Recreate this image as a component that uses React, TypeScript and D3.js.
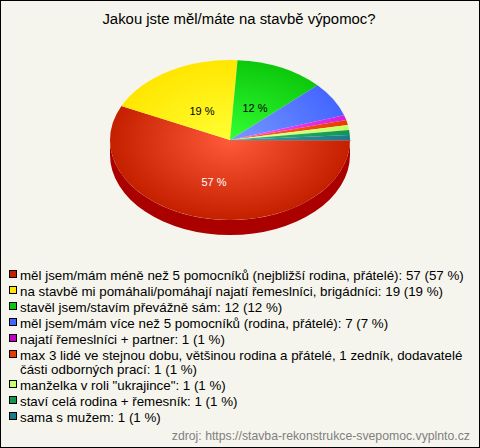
import React from "react";
import * as d3 from "d3";

const title = "Jakou jste měl/máte na stavbě výpomoc?";
const source = "zdroj: https://stavba-rekonstrukce-svepomoc.vyplnto.cz";
const values = [57, 19, 12, 7, 1, 1, 1, 1, 1];
const edgeColors = ["#c42000", "#ffe600", "#0cc80c", "#4466ff", "#d61edc", "#e63c00", "#c4ff66", "#0f9650", "#1a7a8a"];
const centerColors = ["#ff5a3a", "#ffff33", "#33ff33", "#7799ff", "#ff55ff", "#ff6a33", "#eeff99", "#33bb77", "#449aaa"];
const markerColors = ["#c42000", "#ffe600", "#0cc80c", "#4466ff", "#c000c8", "#e63c00", "#c4ff66", "#0f9650", "#1a7a8a"];
const sideColor = "#aa0000";
const legendRows: string[][] = [
  ["měl jsem/mám méně než 5 pomocníků (nejbližší rodina, přátelé): 57 (57 %)"],
  ["na stavbě mi pomáhali/pomáhají najatí řemeslníci, brigádníci: 19 (19 %)"],
  ["stavěl jsem/stavím převážně sám: 12 (12 %)"],
  ["měl jsem/mám více než 5 pomocníků (rodina, přátelé): 7 (7 %)"],
  ["najatí řemeslníci + partner: 1 (1 %)"],
  ["max 3 lidé ve stejnou dobu, většinou rodina a přátelé, 1 zedník, dodavatelé", "části odborných prací: 1 (1 %)"],
  ["manželka v roli \"ukrajince\": 1 (1 %)"],
  ["staví celá rodina + řemesník: 1 (1 %)"],
  ["sama s mužem: 1 (1 %)"],
];
const pieLabels = [
  { index: 0, text: "57 %", fill: "#ffffff" },
  { index: 1, text: "19 %", fill: "#000000" },
  { index: 2, text: "12 %", fill: "#000000" },
];

const W = 480, H = 448, CX = 230, CY = 140, RX = 120, RY = 80, DEPTH = 15;
const FONT = "'Liberation Sans', Arial, sans-serif";

export default function App() {
  const pie = d3.pie<number>().sort(null).startAngle(Math.PI / 2).endAngle(Math.PI / 2 + 2 * Math.PI);
  const arcs = pie(values);
  const arc = d3.arc<d3.PieArcDatum<number>>().innerRadius(0).outerRadius(RX);
  const sx = d3.scaleLinear().domain([-1, 1]).range([CX - RX, CX + RX]);
  const sy = d3.scaleLinear().domain([-1, 1]).range([CY - RY, CY + RY]);
  const side = `M${sx(-1)},${sy(0)}A${RX},${RY} 0 0 0 ${sx(1)},${sy(0)}L${sx(1)},${sy(0) + DEPTH}A${RX},${RY} 0 0 1 ${sx(-1)},${sy(0) + DEPTH}Z`;
  const yPositions = [275, 291, 307, 323, 339, 355, 385, 401, 417];
  return (
    <svg width={W} height={H} style={{ position: "absolute", left: 0, top: 0, display: "block" }} fontFamily={FONT}>
      <defs>
        {arcs.map((a, i) => (
          <radialGradient key={i} id={`g${i}`} gradientUnits="userSpaceOnUse" cx={0} cy={0} r={RX}>
            <stop offset="0" stopColor={centerColors[i]} />
            <stop offset="1" stopColor={edgeColors[i]} />
          </radialGradient>
        ))}
      </defs>
      <rect x={0} y={0} width={W} height={H} fill="#000" />
      <rect x={1} y={1} width={W - 2} height={H - 2} fill="#f5f5ed" />
      <text x={239} y={24} textAnchor="middle" fontSize={14.9} fill="#000">{title}</text>
      <path d={side} fill={sideColor} />
      <g transform={`translate(${CX},${CY}) scale(1,${RY / RX})`}>
        {arcs.map((a, i) => (
          <path key={i} d={arc(a) || ""} fill={`url(#g${i})`} />
        ))}
      </g>
      <line x1={CX} x2={CX + RX + 1} y1={CY + 0.5} y2={CY + 0.5} stroke="#888" strokeOpacity={0.6} />
      {pieLabels.map((l) => (
        <text key={l.index} x={[214, 202, 255][l.index]} y={[186, 115, 112][l.index]} textAnchor="middle" fontSize={11} fill={l.fill}>{l.text}</text>
      ))}
      {legendRows.map((lines, i) => {
        const y = yPositions[i];
        return (
          <g key={i}>
            <rect x={9.5} y={y - 4.5} width={7} height={7} fill={markerColors[i]} stroke="#000" />
            {lines.map((t, j) => (
              <text key={j} x={20} y={y + 4.5 + j * 14} fontSize={13.33} fill="#000">{t}</text>
            ))}
          </g>
        );
      })}
      <text x={470} y={440} textAnchor="end" fontSize={12.25} fill="#808080">{source}</text>
    </svg>
  );
}
